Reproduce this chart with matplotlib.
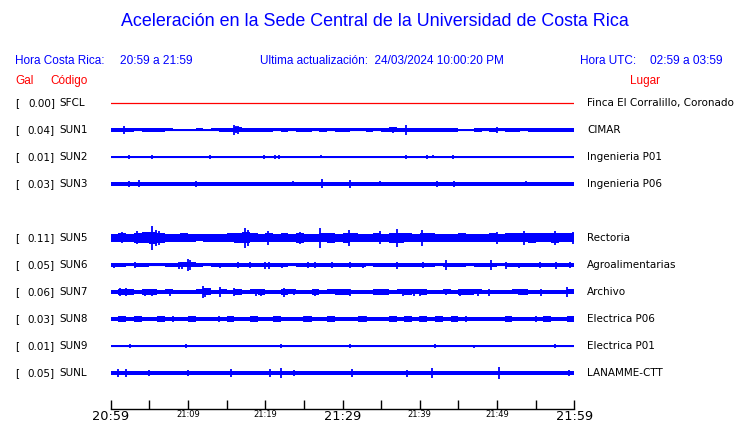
import matplotlib

matplotlib.use("Agg")
import matplotlib.pyplot as plt  # noqa: E402
import numpy as np  # noqa: E402

W, H = 740, 423

# station rows (row 4 is left empty in the original)
rows = [0, 1, 2, 3, 5, 6, 7, 8, 9, 10]
codes = ["SFCL", "SUN1", "SUN2", "SUN3", "SUN5", "SUN6", "SUN7", "SUN8", "SUN9", "SUNL"]
peaks = [0.00, 0.04, 0.01, 0.03, 0.11, 0.05, 0.06, 0.03, 0.01, 0.05]
places = ["Finca El Corralillo, Coronado", "CIMAR", "Ingenieria P01", "Ingenieria P06",
          "Rectoria", "Agroalimentarias", "Archivo", "Electrica P06", "Electrica P01",
          "LANAMME-CTT"]

# envelope half-height (pixels) per minute
env = {
    "SFCL": [0.0] * 60,
    "SUN1": [2, 2, 2, 1.5, 2, 2, 2, 1.5, 1, 0.7, 1, 1.5, 0.7, 1.5, 2, 2, 2.5, 2, 2, 2,
             2, 1.5, 2, 1.5, 2, 2, 1.5, 2, 1.5, 2, 2, 1.5, 1.5, 2, 1.5, 2, 2.5, 2, 2, 2,
             2, 2, 2, 2, 2, 1, 0.7, 2, 1.5, 2, 1.5, 2, 2, 1.5, 2, 2, 2, 2, 2, 2],
    "SUN2": [0.5] * 60,
    "SUN3": [2] * 60,
    "SUN5": [4, 4.5, 4, 5, 5.5, 6, 5, 4, 4, 4.5, 4, 3.5, 4, 4, 4, 4.5, 5, 5.5, 4.5, 4,
             4.5, 4, 4.5, 4, 5, 4, 4, 4.5, 5, 4, 5, 4.5, 4, 4, 4.5, 4, 5, 5, 4.5, 4,
             4.5, 4.5, 4, 4, 4, 4.5, 4, 4, 4, 4.5, 4, 4.5, 4.5, 4.5, 5, 4.5, 4.5, 5, 4.5, 4.5],
    "SUN6": [1.7, 1.7, 1.5, 2, 1.7, 1.5, 1.5, 1.7, 2, 2.5, 2.5, 1.7, 1.5, 1.7, 2, 1.7, 2, 1.7, 2, 1.7,
             2, 1.7, 2, 1.5, 1.7, 2, 2.2, 2, 1.7, 2, 1.7, 2, 1.7, 1.5, 1.7, 1.7, 2, 2, 1.7, 1.7,
             2, 1.7, 1.5, 2, 1.7, 1.7, 1.5, 1.7, 1.7, 2, 1.5, 2, 1.7, 1.7, 1.7, 2, 1.7, 2, 1.7, 2],
    "SUN7": [2.2, 3, 3, 2.2, 3, 3, 2.2, 2.5, 2.2, 2.2, 2.2, 2.5, 3.5, 2.2, 2.5, 2.2, 3, 2.2, 2.5, 3,
             2.2, 2.2, 2.8, 2.5, 2.2, 2.2, 2.8, 2.2, 2.5, 2.8, 2.8, 2.2, 2.2, 2.2, 2.8, 2.8, 2.2, 2.5, 2.8, 2.5,
             2.8, 2.2, 2.2, 2.5, 2.2, 2.8, 2.8, 2.5, 2.2, 2.2, 2.2, 2.2, 2.5, 2.8, 2.2, 2.2, 2.2, 2.2, 2.2, 2.5],
    "SUN8": [2.3, 2.5, 2.3, 2.5, 2.3, 2.3, 2.5, 2.3, 2.3, 2.3, 2.5, 2.3, 2.3, 2, 2.3, 2.5, 2.3, 2.3, 2.5, 2.3,
             2.3, 2.5, 2.3, 2.3, 2.3, 2.5, 2.3, 2.3, 2.5, 2.3, 2.3, 2.3, 2.5, 2.3, 2.3, 2.3, 2.5, 2.3, 2.5, 2.3,
             2.5, 2.3, 2.5, 2.3, 2.5, 2.3, 2.3, 2, 2.3, 2.3, 2.3, 2.5, 2.3, 2.3, 2.3, 2.3, 2.5, 2.3, 2.3, 2.5],
    "SUN9": [0.5, 0.5, 1.2, 1.2, 0.5, 1.2, 0.5, 1, 0.5, 0.5, 1, 0.5, 0.5, 0.5, 0.5, 0.5, 0.5, 1, 1.2, 1,
             1.2, 0.5, 1, 0.5, 1.2, 0.5, 0.5, 1, 1.2, 0.5, 0.5, 0.5, 0.5, 0.5, 1, 0.5, 1, 0.5, 0.5, 1,
             0.5, 1.2, 1.2, 1, 1, 0.5, 1, 0.5, 0.5, 0.5, 0.5, 0.5, 0.5, 0.5, 0.5, 0.5, 1, 0.5, 1.2, 0.5],
    "SUNL": [1.8, 2, 2, 1.8, 1.8, 2, 1.8, 1.8, 1.8, 1.8, 2, 1.8, 1.8, 1.8, 1.8, 2, 1.8, 1.8, 1.8, 1.8,
             2, 2.2, 2.2, 1.8, 1.8, 1.8, 1.8, 1.8, 1.8, 1.8, 1.8, 2, 1.8, 1.8, 1.8, 1.8, 1.8, 1.8, 2, 1.8,
             1.8, 2.2, 1.8, 1.8, 1.8, 1.8, 1.8, 1.8, 1.8, 1.8, 2, 1.8, 1.8, 1.8, 1.8, 1.8, 1.8, 1.8, 1.8, 2],
}

# short bursts: (minute, half-height in pixels)
spikes = {
    "SFCL": [],
    "SUN1": [(1.7, 4), (15.9, 5), (16.5, 4), (16.2, 3.5), (36.5, 3), (38.2, 5), (50, 3), (57, 2)],
    "SUN2": [(2.4, 2), (5.4, 2), (12.8, 2), (19.9, 2), (21.2, 2), (21.8, 2), (27.2, 1.5),
             (38.2, 2), (41, 2), (41.7, 1.5), (44.3, 2)],
    "SUN3": [(2.4, 3), (3.7, 3.5), (11, 3), (23.6, 2.5), (27.4, 4.5), (31, 4), (34.8, 2.5),
             (42.2, 3), (44.4, 3), (53.7, 2.5)],
    "SUN5": [(1.5, 5.5), (3.4, 6.5), (5.4, 12), (5.8, 8), (6.2, 7), (17.4, 10), (17.8, 8),
             (20.3, 7), (24.5, 6), (27.1, 10), (30.8, 8), (34.8, 6.5), (37, 9), (40.3, 8),
             (50, 6), (53.5, 7), (57.5, 7), (59.8, 6)],
    "SUN6": [(0.4, 2.5), (3.1, 3), (8.8, 3.5), (9.2, 3.5), (10, 6), (10.3, 4.5), (14.1, 2.5),
             (16.5, 3), (18, 3), (20, 3.5), (20.5, 3.5), (22.2, 2.5), (25.5, 3), (26.5, 3),
             (28.7, 3), (31, 3), (32.7, 2.5), (37, 3.5), (40.4, 3), (43.4, 4.5), (49.2, 4.5),
             (51.2, 3.5), (52.8, 2.5), (55.6, 3), (57.6, 3.5), (59.4, 3)],
    "SUN7": [(1.2, 4), (2, 4), (4.5, 3.5), (5.3, 3.5), (7.7, 3.5), (11.9, 6), (12.2, 4.5),
             (14.1, 5), (16, 4), (18.8, 3.5), (19.5, 3.5), (22.4, 4.5), (23.7, 3), (26.5, 3.5),
             (29.2, 3), (31, 3.5), (34.6, 3), (37.8, 3.5), (39.2, 3.5), (40, 3.5), (43.4, 3),
             (45.2, 3.5), (47.5, 3.5), (49, 3.5), (52.8, 3), (55.7, 3.5), (59, 5.5)],
    "SUN8": [(3.5, 3), (8, 3), (14, 3), (25, 3), (33, 3), (40, 3), (46, 3), (55, 3)],
    "SUN9": [(2.5, 1.8), (9.8, 1.8), (22, 1.8), (31, 1.8), (42, 1.8), (47, 1.5), (57.5, 1.8)],
    "SUNL": [(1, 4), (2, 4), (5, 3), (10, 3), (15.6, 4), (20.6, 4), (22, 5), (23.7, 3),
             (31.2, 4), (38.3, 3.5), (41.6, 5), (50.2, 6), (59.3, 3)],
}

tick_minutes = [0, 10, 20, 30, 40, 50, 60]
tick_labels = ["20:59", "21:09", "21:19", "21:29", "21:39", "21:49", "21:59"]
big_ticks = ["20:59", "21:29", "21:59"]

BLUE = "#0000ff"
RED = "#ff0000"
ROW_PX = 27.0


def fx(x):
    return x / W


def fy(y):
    return 1 - y / H


fig = plt.figure(figsize=(W / 100, H / 100), dpi=100)

# axes spans trace area plus the time axis baseline at y=409
x0, x1 = 110.7, 574.3
ytop, ybot = 89.5, 409.0
ax = fig.add_axes([fx(x0), fy(ybot), (x1 - x0) / W, (ybot - ytop) / H])
ax.set_xlim(0, 60)
ax.set_ylim((ybot - 103) / ROW_PX, (ytop - 103) / ROW_PX)

t = np.arange(61)
for r, code in zip(rows, codes):
    if code == "SFCL":
        ax.plot([0, 60], [r, r], color=RED, lw=0.9)
        continue
    ax.plot([0, 60], [r, r], color=BLUE, lw=0.8)
    a = np.array(env[code] + [env[code][-1]]) / ROW_PX
    ax.fill_between(t, r - a, r + a, step="post", color=BLUE, lw=0)
    for m, h in spikes[code]:
        ax.vlines(m, r - h / ROW_PX, r + h / ROW_PX, color=BLUE, lw=1.3)

for s in ["top", "right", "left"]:
    ax.spines[s].set_visible(False)
ax.spines["bottom"].set_linewidth(1.0)
ax.set_yticks([])
ax.set_xticks(tick_minutes)
ax.set_xticks(np.arange(5, 60, 10), minor=True)
ax.tick_params(axis="x", which="both", direction="in", length=6.8, width=1.0, pad=1)
ax.set_xticklabels(tick_labels)
for lab in ax.get_xticklabels():
    if lab.get_text() in big_ticks:
        lab.set_fontsize(9.3)
    else:
        lab.set_fontsize(6)

# station labels
for r, code, pk, pl in zip(rows, codes, peaks, places):
    y = 103 + r * ROW_PX
    fig.text(fx(15), fy(y), "[", fontsize=7.5, va="center", ha="left")
    fig.text(fx(55), fy(y), f"{pk:.2f}]", fontsize=7.5, va="center", ha="right")
    fig.text(fx(59), fy(y), code, fontsize=7.5, va="center", ha="left")
    fig.text(fx(587), fy(y), pl, fontsize=7.5, va="center", ha="left")

hf = "Liberation Sans"
fig.text(fx(375), fy(22), "Aceleración en la Sede Central de la Universidad de Costa Rica",
         color=BLUE, fontsize=12.9, family=hf, ha="center", va="center")
fig.text(fx(15), fy(61), "Hora Costa Rica:", color=BLUE, fontsize=8.5, family=hf, va="center")
fig.text(fx(120), fy(61), "20:59 a 21:59", color=BLUE, fontsize=8.6, family=hf, va="center")
fig.text(fx(260), fy(61), "Ultima actualización:  24/03/2024 10:00:20 PM", color=BLUE,
         fontsize=8.5, family=hf, va="center")
fig.text(fx(580), fy(61), "Hora UTC:", color=BLUE, fontsize=8.5, family=hf, va="center")
fig.text(fx(650), fy(61), "02:59 a 03:59", color=BLUE, fontsize=8.6, family=hf, va="center")
fig.text(fx(15), fy(81), "Gal", color=RED, fontsize=8.5, family=hf, va="center")
fig.text(fx(50), fy(81), "Código", color=RED, fontsize=8.5, family=hf, va="center")
fig.text(fx(630), fy(81), "Lugar", color=RED, fontsize=8.5, family=hf, va="center")

fig.savefig("out.png", dpi=100)
